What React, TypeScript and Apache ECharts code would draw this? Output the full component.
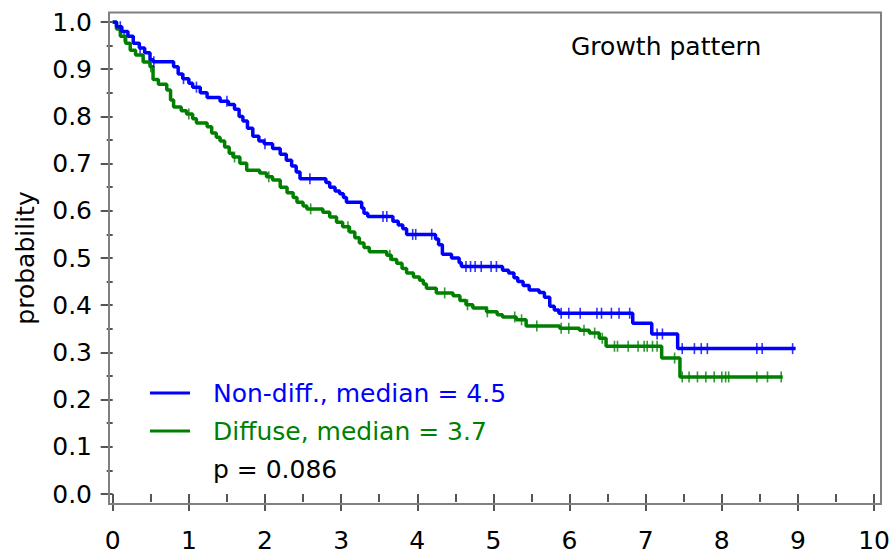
import React, { useEffect, useRef } from "react";
import * as echarts from "echarts";

const FONT = "DejaVu Sans";

const titleText = "Growth pattern";
const yAxisName = "probability";
const pValueText = "p = 0.086";
const seriesNames = ["Non-diff., median = 4.5", "Diffuse, median = 3.7"];
const seriesColors = ["#0000ff", "#008000"];

// Kaplan-Meier step values: [time, survival] at each event time
const nonDiffSteps: [number, number][] = [
  [0, 1.0], [0.05, 0.99], [0.12, 0.98], [0.2, 0.97], [0.27, 0.955], [0.35, 0.945],
  [0.42, 0.935], [0.49, 0.92], [0.53, 0.916], [0.8, 0.905], [0.86, 0.89], [0.92, 0.88],
  [1.0, 0.87], [1.05, 0.862], [1.15, 0.85], [1.24, 0.84], [1.41, 0.832], [1.52, 0.825],
  [1.6, 0.815], [1.66, 0.8], [1.71, 0.79], [1.77, 0.775], [1.84, 0.758], [1.92, 0.748],
  [1.99, 0.742], [2.1, 0.732], [2.2, 0.72], [2.28, 0.707], [2.35, 0.695], [2.41, 0.682],
  [2.46, 0.668], [2.8, 0.66], [2.85, 0.65], [2.92, 0.642], [2.98, 0.636], [3.03, 0.628],
  [3.07, 0.618], [3.27, 0.606], [3.3, 0.595], [3.35, 0.588], [3.68, 0.578], [3.75, 0.57],
  [3.81, 0.562], [3.86, 0.55], [4.24, 0.54], [4.28, 0.528], [4.33, 0.508], [4.45, 0.5],
  [4.55, 0.49], [4.58, 0.482], [5.12, 0.474], [5.2, 0.468], [5.27, 0.458], [5.32, 0.45],
  [5.39, 0.442], [5.47, 0.432], [5.6, 0.427], [5.67, 0.417], [5.74, 0.398], [5.8, 0.39],
  [5.86, 0.383], [6.83, 0.362], [7.08, 0.339], [7.42, 0.308], [8.97, 0.308],
];

const diffuseSteps: [number, number][] = [
  [0, 1.0], [0.05, 0.985], [0.1, 0.97], [0.17, 0.955], [0.23, 0.94], [0.3, 0.93],
  [0.4, 0.915], [0.49, 0.905], [0.53, 0.878], [0.6, 0.868], [0.71, 0.856], [0.76, 0.835],
  [0.8, 0.82], [0.9, 0.812], [0.97, 0.805], [1.05, 0.795], [1.1, 0.786], [1.24, 0.778],
  [1.3, 0.765], [1.36, 0.756], [1.41, 0.748], [1.47, 0.735], [1.53, 0.722], [1.58, 0.714],
  [1.67, 0.701], [1.76, 0.686], [1.93, 0.68], [2.02, 0.672], [2.1, 0.665], [2.2, 0.65],
  [2.29, 0.638], [2.37, 0.628], [2.42, 0.618], [2.5, 0.61], [2.55, 0.604], [2.76, 0.597],
  [2.85, 0.587], [2.94, 0.576], [3.02, 0.566], [3.11, 0.555], [3.18, 0.543], [3.24, 0.532],
  [3.3, 0.522], [3.37, 0.513], [3.6, 0.506], [3.66, 0.497], [3.73, 0.489], [3.8, 0.478],
  [3.86, 0.468], [3.95, 0.46], [4.03, 0.453], [4.08, 0.445], [4.12, 0.436], [4.25, 0.426],
  [4.47, 0.42], [4.56, 0.41], [4.64, 0.401], [4.73, 0.394], [4.91, 0.386], [5.05, 0.38],
  [5.12, 0.375], [5.3, 0.369], [5.43, 0.356], [5.87, 0.351], [6.13, 0.347], [6.26, 0.341],
  [6.39, 0.33], [6.48, 0.313], [7.21, 0.288], [7.45, 0.248], [8.8, 0.248],
];

// censoring times
const nonDiffCensored = [
  0.1, 0.36, 0.54, 0.93, 1.1, 1.5, 2.0, 2.59, 3.55, 3.6, 3.94, 3.98, 4.19, 4.64, 4.7,
  4.76, 4.84, 4.97, 5.04, 5.89, 5.99, 6.14, 6.36, 6.42, 6.55, 6.65, 6.79, 7.15, 7.22,
  7.48, 7.64, 7.73, 7.81, 8.46, 8.53, 8.93,
];
const diffuseCensored = [
  0.15, 0.5, 1.0, 1.6, 2.05, 2.6, 3.09, 3.64, 4.36, 4.66, 4.92, 5.28, 5.37, 5.57, 5.89,
  5.99, 6.19, 6.33, 6.43, 6.59, 6.63, 6.77, 6.9, 6.98, 7.02, 7.09, 7.15, 7.38, 7.48,
  7.57, 7.68, 7.79, 7.9, 8.0, 8.05, 8.09, 8.46, 8.6, 8.78,
];

function survivalAt(steps: [number, number][], t: number): number {
  let v = steps[0][1];
  for (const [time, s] of steps) {
    if (time <= t) v = s;
    else break;
  }
  return v;
}

const tickStyle = { color: "#555", width: 2 };

export default function App() {
  const ref = useRef<HTMLDivElement>(null);
  useEffect(() => {
    if (!ref.current) return;
    const chart = echarts.init(ref.current, null, { renderer: "svg" });
    const stepSets = [nonDiffSteps, diffuseSteps];
    const censorSets = [nonDiffCensored, diffuseCensored];
    const lineSeries = [1, 0].map((i) => ({
      name: seriesNames[i],
      type: "line",
      step: "end",
      data: stepSets[i],
      showSymbol: false,
      symbol: "none",
      lineStyle: { color: seriesColors[i], width: 3.5 },
      itemStyle: { color: seriesColors[i] },
      z: 3 + (1 - i),
    }));
    const censorSeries = [1, 0].map((i) => ({
      name: seriesNames[i] + " censored",
      type: "scatter",
      data: censorSets[i].map((t) => [t, survivalAt(stepSets[i], t)]),
      symbol: "rect",
      symbolSize: [1.6, 11],
      itemStyle: { color: seriesColors[i] },
      z: 3 + (1 - i),
    }));
    chart.setOption({
      animation: false,
      textStyle: { fontFamily: FONT },
      title: {
        text: titleText,
        left: 571,
        top: 33.5,
        padding: 0,
        textStyle: { fontSize: 25, fontWeight: "normal", color: "#000", fontFamily: FONT, lineHeight: 25 },
      },
      grid: { left: 112.7, right: 18, top: 22, bottom: 66 },
      xAxis: {
        type: "value",
        min: 0,
        max: 10,
        interval: 1,
        offset: 10,
        axisLine: { show: false },
        axisTick: { show: true, length: 17, lineStyle: tickStyle },
        minorTick: { show: true, splitNumber: 2, length: 8, lineStyle: tickStyle },
        splitLine: { show: false },
        minorSplitLine: { show: false },
        axisLabel: { fontSize: 25, margin: 24, color: "#000", fontFamily: FONT },
      },
      yAxis: {
        type: "value",
        min: 0,
        max: 1,
        interval: 0.1,
        offset: 3.7,
        name: yAxisName,
        nameLocation: "middle",
        nameGap: 71,
        nameTextStyle: { fontSize: 25, color: "#000", fontFamily: FONT, lineHeight: 25 },
        axisLine: { show: false },
        axisTick: { show: true, length: 12, lineStyle: tickStyle },
        minorTick: { show: true, splitNumber: 2, length: 6, lineStyle: tickStyle },
        splitLine: { show: false },
        minorSplitLine: { show: false },
        axisLabel: {
          fontSize: 25,
          margin: 17,
          color: "#000",
          fontFamily: FONT,
          formatter: (v: number) => v.toFixed(1),
        },
      },
      legend: {
        orient: "vertical",
        left: 150,
        top: 380.5,
        padding: 0,
        itemWidth: 40,
        itemHeight: 3,
        itemGap: 13,
        icon: "rect",
        selectedMode: false,
        data: [
          { name: seriesNames[0], textStyle: { color: seriesColors[0] } },
          { name: seriesNames[1], textStyle: { color: seriesColors[1] } },
        ],
        textStyle: { fontSize: 25, fontFamily: FONT, lineHeight: 25, padding: [0, 0, 0, 18] },
      },
      graphic: [
        {
          type: "rect",
          shape: { x: 109, y: 12.5, width: 772, height: 491.5 },
          style: { fill: "none", stroke: "#808080", lineWidth: 2 },
          z: 10,
          silent: true,
        },
        {
          type: "text",
          x: 213,
          y: 469,
          style: {
            text: pValueText,
            fontSize: 25,
            fontFamily: FONT,
            fill: "#000",
            verticalAlign: "middle",
            textAlign: "left",
          },
        },
      ],
      series: [...lineSeries, ...censorSeries],
    });
    return () => chart.dispose();
  }, []);
  return (
    <div
      ref={ref}
      style={{ position: "fixed", left: 0, top: 0, width: 893, height: 560, background: "#fff" }}
    />
  );
}
